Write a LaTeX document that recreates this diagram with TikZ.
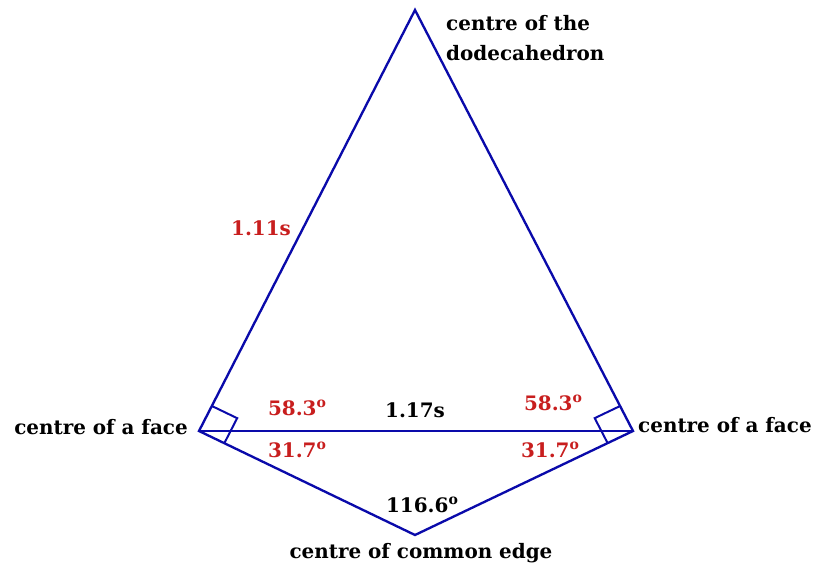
\documentclass[tikz,border=0pt]{standalone}
\usepackage{fontspec}
\setmainfont{DejaVu Serif}
\usetikzlibrary{calc}
\definecolor{lineblue}{RGB}{10,10,170}
\definecolor{lblred}{RGB}{200,30,30}
\newcommand{\dg}{\raisebox{0.75ex}{\fontsize{12}{12}\selectfont o}}
\begin{document}
\begin{tikzpicture}[x=0.03cm,y=-0.03cm,
  edge/.style={draw=lineblue,line width=2pt,line join=miter},
  rmark/.style={draw=lineblue,line width=1.7pt},
  lbl/.style={font=\bfseries\fontsize{17}{26}\selectfont,inner sep=0pt,text=black},
  rlbl/.style={lbl,text=lblred}]
\useasboundingbox (0,0) rectangle (816,569);
\coordinate (A) at (415,10);
\coordinate (L) at (199,431);
\coordinate (R) at (633,431);
\coordinate (B) at (415,535);
\draw[edge] (A) -- (L) -- (B) -- (R) -- cycle;
\draw[edge] (L) -- (R);
% right-angle marks
\draw[rmark] ($(L)!24pt!(A)$) -- ($(L)!24pt!(A)+(L)!24pt!(B)-(L)$) -- ($(L)!24pt!(B)$);
\draw[rmark] ($(R)!24pt!(A)$) -- ($(R)!24pt!(A)+(R)!24pt!(B)-(R)$) -- ($(R)!24pt!(B)$);
\node[lbl,anchor=west,align=left] (top) at (446,38) {centre of the\\dodecahedron};
\node[rlbl] (s111) at (261,228) {1.11s};
\node[rlbl] (a1) at (297,408) {58.3\dg};
\node[lbl] (s117) at (415,410) {1.17s};
\node[rlbl] (a2) at (553,403) {58.3\dg};
\node[rlbl] (a3) at (297,450) {31.7\dg};
\node[rlbl] (a4) at (550,450) {31.7\dg};
\node[lbl] (a5) at (422,505) {116.6\dg};
\node[lbl,anchor=east] (lf) at (188,427) {centre of a face};
\node[lbl,anchor=west] (rf) at (638,425) {centre of a face};
\node[lbl] (ce) at (421,553) {centre of common edge};
\end{tikzpicture}
\end{document}
